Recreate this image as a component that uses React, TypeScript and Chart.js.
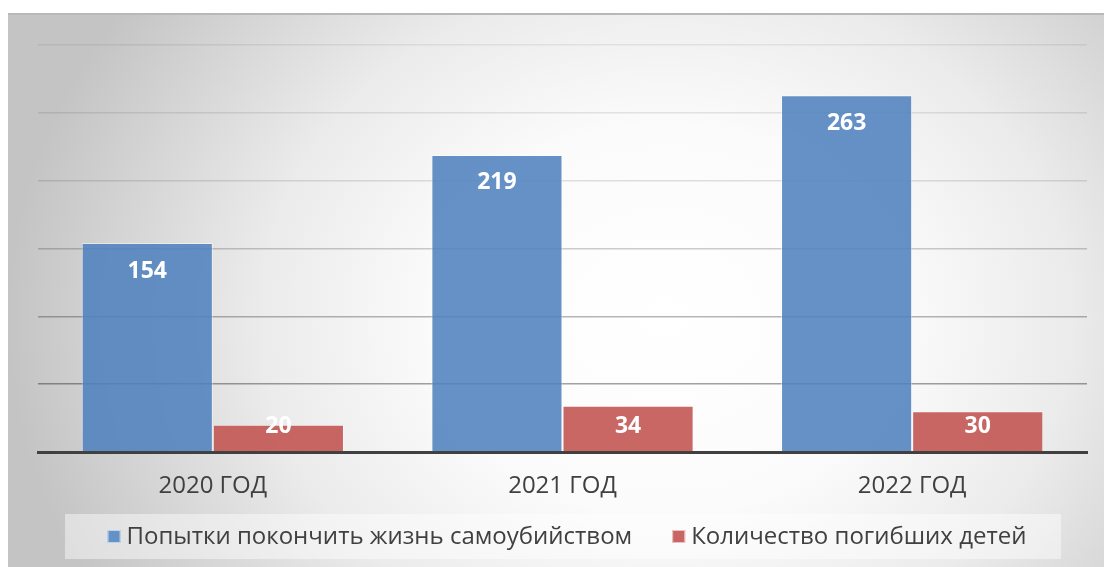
import React, { useEffect, useRef } from "react";
import { Chart, registerables } from "chart.js";

Chart.register(...registerables);

const categories = ["2020 ГОД", "2021 ГОД", "2022 ГОД"];
const attempts = [154, 219, 263];
const deaths = [20, 34, 30];
const seriesNames = ["Попытки покончить жизнь самоубийством", "Количество погибших детей"];
const yTicks = [0, 50, 100, 150, 200, 250, 300];

const FONT = "'Open Sans', 'DejaVu Sans', sans-serif";

const valueLabels = {
  id: "valueLabels",
  afterDatasetsDraw(chart: any) {
    const ctx = chart.ctx;
    const base = chart.scales.y.getPixelForValue(0);
    ctx.save();
    ctx.fillStyle = "#ffffff";
    ctx.font = `bold 23px ${FONT}`;
    ctx.textAlign = "center";
    ctx.textBaseline = "middle";
    chart.data.datasets.forEach((ds: any, di: number) => {
      const meta = chart.getDatasetMeta(di);
      meta.data.forEach((bar: any, i: number) => {
        const y = Math.min(bar.y + 28, base - 26);
        ctx.fillText(String(ds.data[i]), bar.x, y);
      });
    });
    ctx.restore();
  },
};

const boxLegend = {
  id: "boxLegend",
  afterDraw(chart: any) {
    const ctx = chart.ctx;
    const ca = chart.chartArea;
    const left = ca.left + 27;
    const right = ca.right - 26;
    const top = ca.bottom + 62;
    const h = 45;
    ctx.save();
    ctx.fillStyle = "rgba(255,255,255,0.45)";
    ctx.fillRect(left, top, right - left, h);
    ctx.font = `24px ${FONT}`;
    ctx.textBaseline = "middle";
    const box = 13;
    const gapText = 6;
    const gapItem = 40;
    const items = chart.data.datasets.map((ds: any) => ({
      label: ds.label,
      color: ds.legendColor,
      w: ctx.measureText(ds.label).width,
    }));
    const total = items.reduce((s: number, it: any) => s + box + gapText + it.w, 0) + gapItem * (items.length - 1);
    let x = (left + right) / 2 - total / 2 + 4;
    const cy = top + h / 2;
    items.forEach((it: any) => {
      ctx.fillStyle = it.color;
      ctx.fillRect(x, cy - box / 2, box, box);
      ctx.strokeStyle = "rgba(255,255,255,0.6)";
      ctx.lineWidth = 1;
      ctx.strokeRect(x + 0.5, cy - box / 2 + 0.5, box - 1, box - 1);
      x += box + gapText;
      ctx.fillStyle = "#404040";
      ctx.fillText(it.label, x, cy + 1);
      x += it.w + gapItem;
    });
    ctx.restore();
  },
};

export default function App() {
  const ref = useRef<HTMLCanvasElement | null>(null);
  useEffect(() => {
    if (!ref.current) return;
    const chart = new Chart(ref.current, {
      type: "bar",
      data: {
        labels: categories,
        datasets: [
          {
            label: seriesNames[0],
            data: attempts,
            backgroundColor: "rgba(79,129,189,0.87)",
            borderColor: "rgba(255,255,255,0.45)",
            borderWidth: 1,
            legendColor: "rgb(99,146,199)",
          } as any,
          {
            label: seriesNames[1],
            data: deaths,
            backgroundColor: "rgba(192,80,77,0.87)",
            borderColor: "rgba(255,255,255,0.45)",
            borderWidth: 1,
            legendColor: "rgb(200,102,100)",
          } as any,
        ],
      },
      options: {
        animation: false,
        responsive: false,
        maintainAspectRatio: false,
        layout: { padding: { left: 30, top: 30, right: 17, bottom: 0 } },
        plugins: { legend: { display: false }, tooltip: { enabled: false } },
        datasets: { bar: { barPercentage: 1, categoryPercentage: 0.75 } },
        scales: {
          x: {
            grid: { display: false, drawTicks: false },
            border: { display: true, color: "#404040", width: 3 },
            ticks: { color: "#404040", font: { family: FONT, size: 24 }, padding: 20 },
            afterFit: (s: any) => {
              s.height = 115;
            },
          },
          y: {
            min: yTicks[0],
            max: yTicks[yTicks.length - 1],
            afterBuildTicks: (s: any) => {
              s.ticks = yTicks.map((v) => ({ value: v }));
            },
            grid: {
              color: (c: any) => {
                const ca = c.chart.chartArea;
                if (!ca) return "rgba(0,0,0,0.3)";
                const g = c.chart.ctx.createLinearGradient(0, ca.top, 0, ca.bottom);
                g.addColorStop(0, "rgba(0,0,0,0.07)");
                g.addColorStop(0.35, "rgba(0,0,0,0.12)");
                g.addColorStop(1, "rgba(0,0,0,0.45)");
                return g;
              },
              lineWidth: 1.5,
              drawTicks: false,
            },
            border: { display: false },
            ticks: { display: false },
            afterFit: (s: any) => {
              s.width = 0;
            },
          },
        },
      },
      plugins: [valueLabels, boxLegend],
    });
    return () => chart.destroy();
  }, []);

  return (
    <div
      style={{
        position: "fixed",
        left: 8,
        top: 13,
        width: 1096,
        height: 554,
        boxSizing: "border-box",
        borderTop: "2px solid #b8b8b8",
        background:
          "radial-gradient(ellipse 60% 100% at 60% 55%, #ffffff 0%, #fbfbfb 35%, #ebebeb 62%, #c4c4c4 100%)",
      }}
    >
      <canvas ref={ref} width={1096} height={552} style={{ display: "block" }} />
    </div>
  );
}
